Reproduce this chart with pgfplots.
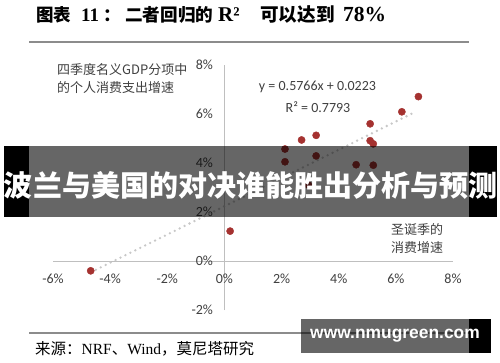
\documentclass[border=0pt]{standalone}
\usepackage{fontspec}
\usepackage{pgfplots}
\pgfplotsset{compat=1.18}
\setmainfont{Carlito}
\newfontfamily\cjk{Noto Sans CJK SC}
\newfontfamily\serif{Liberation Serif}
\newfontfamily\wm{Liberation Sans}
\definecolor{dotred}{RGB}{165,50,48}
\definecolor{axgray}{RGB}{191,191,191}
\definecolor{trendgray}{RGB}{200,200,200}
\definecolor{txt}{RGB}{64,64,64}
\begin{document}
\begin{tikzpicture}
\useasboundingbox (0pt,0pt) rectangle (500pt,362pt);
\fill[white] (0pt,0pt) rectangle (500pt,362pt);
% title
\begin{scope}[every node/.style={anchor=base west, inner sep=0pt, font=\bfseries}]
\node at (36pt,340pt) {\cjk\fontsize{17.5}{20}\selectfont 图表};
\node at (81pt,340pt) {\serif\fontsize{19}{20}\selectfont 11};
\node at (103pt,340pt) {\cjk\fontsize{17.5}{20}\selectfont ：};
\node at (125pt,340pt) {\cjk\fontsize{17.6}{20}\selectfont 二者回归的};
\node at (218pt,340pt) {\serif\fontsize{21}{20}\selectfont R²};
\node at (260pt,340pt) {\cjk\fontsize{18.6}{20}\selectfont 可以达到};
\node at (343pt,340pt) {\serif\fontsize{21.5}{20}\selectfont 78\%};
\end{scope}
\draw[black!45, line width=1.2pt] (29pt,320pt) -- (469pt,320pt);
\draw[black!45, line width=1.2pt] (29pt,29pt) -- (469pt,29pt);
\node[anchor=west, inner sep=0pt] at (35pt,13pt) {\fontsize{15.5}{17}\selectfont{\cjk 来源：}{\serif NRF}{\cjk 、}{\serif Wind}{\cjk ，莫尼塔研究}};
\begin{axis}[
  at={(53pt,52pt)}, anchor=south west, scale only axis,
  width=400pt, height=245pt,
  xmin=-6, xmax=8, ymin=-2, ymax=8,
  enlargelimits=false, clip=false,
  axis lines=middle,
  axis line style={axgray, line width=1pt, -},
  xtick={-6,-4,-2,0,2,4,6,8},
  xticklabels={-6\%,-4\%,-2\%,0\%,2\%,4\%,6\%,8\%},
  ytick={-2,0,2,4,6,8},
  yticklabels={-2\%,0\%,2\%,4\%,6\%,8\%},
  hide obscured x ticks=false, hide obscured y ticks=false,
  major tick length=0pt,
  ticklabel style={font=\fontsize{14}{16}\selectfont, text=txt},
  xticklabel style={yshift=-9pt},
  yticklabel style={xshift=-8pt},
]
\addplot[trendgray, line width=2.6pt, line cap=round, dash pattern=on 0pt off 5.5pt] coordinates {(-4.5,-0.36) (6.6,6.04)};
\addplot[only marks, mark=*, mark size=3.6pt, mark options={fill=dotred, draw=dotred}] coordinates {
(-4.68,-0.40) (0.20,1.22) (2.12,4.05) (2.12,4.57) (2.70,4.94) (2.94,3.10)
(3.21,5.13) (3.21,4.29) (4.61,3.93) (5.10,5.60) (5.10,4.91) (5.21,4.78)
(5.21,3.91) (6.21,6.09) (6.79,6.71)};
\end{axis}
% annotations
\node[text=txt] at (317.5pt,275pt) {\fontsize{14}{16}\selectfont y = 0.5766x + 0.0223};
\node[text=txt] at (318pt,255pt) {\fontsize{14}{16}\selectfont R² = 0.7793};
\node[anchor=west, align=left, inner sep=0pt, text=txt, font={\cjk\fontsize{13}{18}\selectfont}] at (57pt,283pt) {四季度名义GDP分项中\\的个人消费支出增速};
\node[anchor=west, align=left, inner sep=0pt, text=txt, font={\cjk\fontsize{13}{18}\selectfont}] at (391pt,123pt) {圣诞季的\\消费增速};
% banner overlay
\fill[black] (4pt,145pt) rectangle (29pt,216pt);
\fill[black] (469pt,145pt) rectangle (497pt,216pt);
\fill[black, opacity=0.6] (29pt,145pt) rectangle (469pt,216pt);
\node[text=white, inner sep=0pt] at (250.5pt,177pt) {\cjk\bfseries\fontsize{29}{32}\selectfont 波兰与美国的对决谁能胜出分析与预测};
% watermark
\fill[black, opacity=0.6] (301pt,9pt) rectangle (469pt,43pt);
\fill[black] (469pt,9pt) rectangle (491pt,43pt);
\node[text=white, inner sep=0pt] at (395pt,26pt) {\wm\bfseries\fontsize{17.4}{20}\selectfont www.nmugreen.com};
\end{tikzpicture}
\end{document}
